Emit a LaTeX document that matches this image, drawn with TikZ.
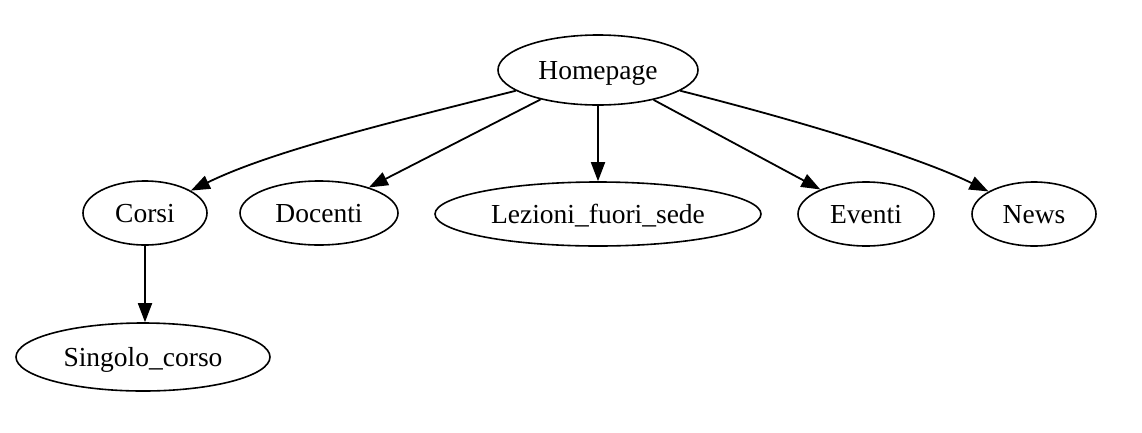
\documentclass[tikz,border=0pt]{standalone}
\usepackage{fontspec}
\setmainfont{Liberation Serif}
\usetikzlibrary{shapes.geometric,arrows.meta}
\tikzset{
  gvnode/.style={draw=black, ellipse, line width=1.6pt, inner sep=0pt, text height=21pt, text depth=3pt, font=\fontsize{27.5}{30}\selectfont},
  gvedge/.style={line width=1.8pt, -{Triangle[length=19pt,width=14pt]}},
}
\begin{document}
\begin{tikzpicture}[x=1pt,y=-1pt]
\useasboundingbox (0,0) rectangle (1142,432);
\fill[white] (0,0) rectangle (1142,432);
\node[gvnode, minimum width=200pt, minimum height=70pt] (home) at (598,70) {Homepage};
\node[gvnode, minimum width=124pt, minimum height=64pt] (corsi) at (145,213) {Corsi};
\node[gvnode, minimum width=158pt, minimum height=64pt] (docenti) at (319,213) {Docenti};
\node[gvnode, minimum width=326pt, minimum height=64pt] (lezioni) at (598,214) {Lezioni\_fuori\_sede};
\node[gvnode, minimum width=136pt, minimum height=64pt] (eventi) at (866,214) {Eventi};
\node[gvnode, minimum width=124pt, minimum height=64pt] (news) at (1034,214) {News};
\node[gvnode, minimum width=254pt, minimum height=68pt] (singolo) at (143,357) {Singolo\_corso};
\draw[gvedge] (home) .. controls (380,125) and (270,152) .. (corsi);
\draw[gvedge] (home) -- (docenti);
\draw[gvedge] (home) -- (lezioni);
\draw[gvedge] (home) -- (eventi);
\draw[gvedge] (home) .. controls (816,125) and (925,160) .. (news);
\draw[gvedge] (corsi.south) -- (corsi.south |- singolo.north);
\end{tikzpicture}
\end{document}
